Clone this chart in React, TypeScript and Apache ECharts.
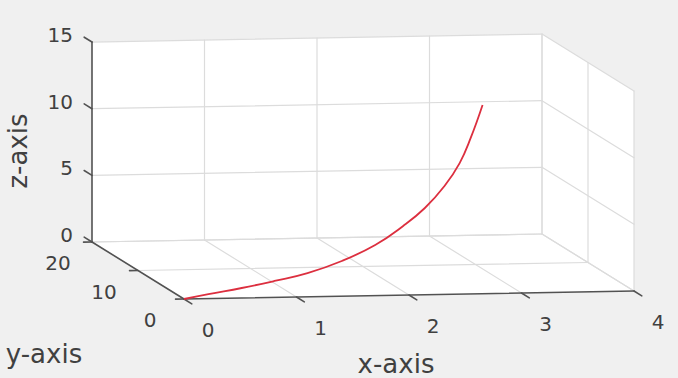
import React, { useEffect, useRef } from "react";
import * as echarts from "echarts";

// ---- data ----
const X_TICKS = [0, 1, 2, 3, 4];
const Y_TICKS = [0, 10, 20];
const Z_TICKS = [0, 5, 10, 15];
const X_LIM = [0, 4];
const Y_LIM = [0, 20];
const Z_LIM = [0, 15];

const CURVE_X = [0, 0.23, 0.55, 0.87, 1.2, 1.55, 1.9, 2.21, 2.46, 2.7, 2.9, 3.08, 3.3];
const CURVE_Y = [0, 0.3, 0.9, 1.6, 2.5, 3.6, 4.9, 6.4, 7.8, 9.4, 11.0, 13.0, 15.8];
const CURVE_Z = [0, 0.27, 0.55, 0.88, 1.23, 1.85, 2.72, 3.78, 4.79, 6.06, 7.41, 8.84, 10.68];

const X_LABEL = "x-axis";
const Y_LABEL = "y-axis";
const Z_LABEL = "z-axis";

// ---- view (orthographic projection of the 3D box onto the page) ----
const W = 678;
const H = 378;
const ORIGIN = [184, 299];
const UX = [112.5, -2];
const UY = [-4.6, -2.85];
const UZ = [0, -13.33];

function project(x: number, y: number, z: number): number[] {
  return [
    ORIGIN[0] + UX[0] * x + UY[0] * y + UZ[0] * z,
    ORIGIN[1] + UX[1] * x + UY[1] * y + UZ[1] * z,
  ];
}

const GRID_COLOR = "#dcdcdc";
const AXIS_COLOR = "#525252";
const TEXT_COLOR = "#404040";
const FONT = '"DejaVu Sans", "Liberation Sans", sans-serif';

type Seg = number[]; // x1,y1,z1,x2,y2,z2

function buildFaces(): number[][][] {
  const [x0, x1] = X_LIM, [y0, y1] = Y_LIM, [z0, z1] = Z_LIM;
  return [
    [[x0, y0, z0], [x1, y0, z0], [x1, y1, z0], [x0, y1, z0]],
    [[x0, y1, z0], [x1, y1, z0], [x1, y1, z1], [x0, y1, z1]],
    [[x1, y0, z0], [x1, y1, z0], [x1, y1, z1], [x1, y0, z1]],
  ];
}

function buildGrid(): Seg[] {
  const [x0, x1] = X_LIM, [y0, y1] = Y_LIM, [z0, z1] = Z_LIM;
  const s: Seg[] = [];
  X_TICKS.forEach((x) => { if (x !== x0) s.push([x, y1, z0, x, y1, z1]); });
  Z_TICKS.forEach((z) => s.push([x0, y1, z, x1, y1, z]));
  Y_TICKS.forEach((y) => s.push([x1, y, z0, x1, y, z1]));
  Z_TICKS.forEach((z) => s.push([x1, y0, z, x1, y1, z]));
  X_TICKS.forEach((x) => { if (x !== x0) s.push([x, y0, z0, x, y1, z0]); });
  Y_TICKS.forEach((y) => { if (y !== y0) s.push([x0, y, z0, x1, y, z0]); });
  return s;
}

const TICK_Y = 1.7;
const TICK_X = 0.075;

function buildAxes(): Seg[] {
  const [x0, x1] = X_LIM, [y0, y1] = Y_LIM, [z0, z1] = Z_LIM;
  const s: Seg[] = [];
  s.push([x0, y0, z0, x1, y0, z0]);
  s.push([x0, y0, z0, x0, y1, z0]);
  s.push([x0, y1, z0, x0, y1, z1]);
  X_TICKS.forEach((x) => s.push([x, y0, z0, x, y0 - TICK_Y, z0]));
  Y_TICKS.forEach((y) => s.push([x0, y, z0, x0 - TICK_X, y, z0]));
  Z_TICKS.forEach((z) => s.push([x0, y1, z, x0, y1 + TICK_Y, z]));
  return s;
}

type Lbl = { text: string; p: number[]; align: string; size: number; rot?: number };

function buildLabels(): Lbl[] {
  const [x0] = X_LIM, [y0, y1] = Y_LIM, [z0] = Z_LIM;
  const out: Lbl[] = [];
  X_TICKS.forEach((x) => {
    const p = project(x, y0, z0);
    out.push({ text: String(x), p: [p[0] + 24, p[1] + 31], align: "center", size: 20 });
  });
  Y_TICKS.forEach((y) => {
    const p = project(x0, y, z0);
    out.push({ text: String(y), p: [p[0] - 34, p[1] + 21], align: "center", size: 20 });
  });
  Z_TICKS.forEach((z) => {
    const p = project(x0, y1, z);
    out.push({ text: String(z), p: [p[0] - 19, p[1] - 7], align: "right", size: 20 });
  });
  out.push({ text: X_LABEL, p: [396, 364], align: "center", size: 26 });
  out.push({ text: Y_LABEL, p: [44, 354], align: "center", size: 26 });
  out.push({ text: Z_LABEL, p: [18, 151], align: "center", size: 26, rot: Math.PI / 2 });
  return out;
}

function segSeries(name: string, segs: Seg[], color: string, width: number, z: number) {
  return {
    type: "custom",
    name,
    coordinateSystem: "cartesian2d",
    silent: true,
    z,
    data: segs.map((_, i) => [i, 0]),
    renderItem: (params: any, api: any) => {
      const s = segs[params.dataIndex];
      const a = api.coord(project(s[0], s[1], s[2]));
      const b = api.coord(project(s[3], s[4], s[5]));
      return {
        type: "line",
        shape: { x1: a[0], y1: a[1], x2: b[0], y2: b[1] },
        style: { stroke: color, lineWidth: width, lineCap: "round" },
      };
    },
  };
}

export default function App() {
  const ref = useRef<HTMLDivElement>(null);
  useEffect(() => {
    document.body.style.margin = "0";
    const chart = echarts.init(ref.current!, null, { renderer: "svg" });
    const faces = buildFaces();
    const grid = buildGrid();
    const axes = buildAxes();
    const labels = buildLabels();
    const curve = CURVE_X.map((x, i) => project(x, CURVE_Y[i], CURVE_Z[i]));

    chart.setOption({
      animation: false,
      backgroundColor: "#f0f0f0",
      grid: { left: 0, right: 0, top: 0, bottom: 0 },
      xAxis: { type: "value", min: 0, max: W, show: false },
      yAxis: { type: "value", min: 0, max: H, inverse: true, show: false },
      series: [
        {
          type: "custom",
          name: "faces",
          coordinateSystem: "cartesian2d",
          silent: true,
          z: 1,
          data: faces.map((_, i) => [i, 0]),
          renderItem: (params: any, api: any) => {
            const f = faces[params.dataIndex];
            const pts = f.map((q) => api.coord(project(q[0], q[1], q[2])));
            return { type: "polygon", shape: { points: pts }, style: { fill: "#ffffff" } };
          },
        },
        segSeries("grid", grid, GRID_COLOR, 1.2, 2),
        segSeries("axes", axes, AXIS_COLOR, 1.6, 3),
        {
          type: "line",
          name: "curve",
          z: 4,
          silent: true,
          data: curve,
          showSymbol: false,
          smooth: 0.45,
          lineStyle: { color: "#dc2f3f", width: 1.8 },
        },
        {
          type: "custom",
          name: "labels",
          coordinateSystem: "cartesian2d",
          silent: true,
          z: 5,
          data: labels.map((_, i) => [i, 0]),
          renderItem: (params: any, api: any) => {
            const l = labels[params.dataIndex];
            const c = api.coord(l.p);
            return {
              type: "text",
              x: c[0],
              y: c[1],
              rotation: l.rot || 0,
              style: {
                text: l.text,
                x: 0,
                y: 0,
                fill: TEXT_COLOR,
                fontSize: l.size,
                fontFamily: FONT,
                align: l.align,
                verticalAlign: "middle",
              },
            };
          },
        },
      ],
    });
    return () => chart.dispose();
  }, []);
  return (
    <div
      ref={ref}
      style={{ position: "fixed", left: 0, top: 0, width: W, height: H }}
    />
  );
}
